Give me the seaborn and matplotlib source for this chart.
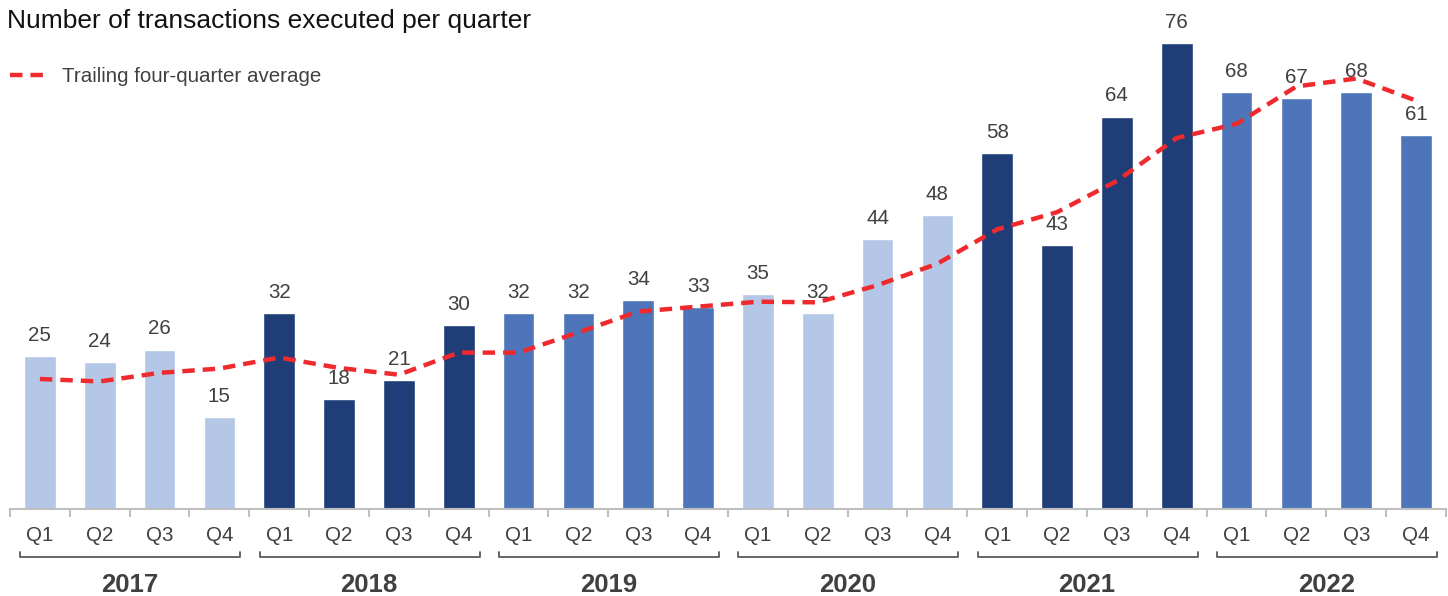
import matplotlib
matplotlib.use('Agg')
import matplotlib.pyplot as plt
import matplotlib.transforms as mtransforms
import seaborn as sns
import pandas as pd

# data -----------------------------------------------------------------
years = ['2017', '2018', '2019', '2020', '2021', '2022']
quarters = ['Q1', 'Q2', 'Q3', 'Q4']
deals = [25, 24, 26, 15,
         32, 18, 21, 30,
         32, 32, 34, 33,
         35, 32, 44, 48,
         58, 43, 64, 76,
         68, 67, 68, 61]
trailing_avg = [21.2, 20.8, 22.2, 22.9,
                24.7, 23.0, 21.9, 25.5,
                25.5, 28.8, 32.2, 33.0,
                33.8, 33.7, 36.5, 40.0,
                45.6, 48.4, 53.5, 60.5,
                62.8, 68.9, 70.2, 66.6]
year_colors = ['#B4C7E7', '#1F3E77', '#4E75BA', '#B4C7E7', '#1F3E77', '#4E75BA']

df = pd.DataFrame({
    'idx': range(len(deals)),
    'quarter': [q for y in years for q in quarters],
    'year': [y for y in years for q in quarters],
    'deals': deals,
    'avg': trailing_avg,
})
bar_colors = [year_colors[years.index(y)] for y in df['year']]

sns.set_style('white')
plt.rcParams['font.family'] = ['Liberation Sans', 'DejaVu Sans']

fig = plt.figure(figsize=(14.48, 5.96), dpi=100)
ax = fig.add_axes([10 / 1448, 87 / 596, 1436 / 1448, 509 / 596])

sns.barplot(data=df, x='idx', y='deals', hue='idx', palette=bar_colors,
            legend=False, width=0.53, saturation=1, ax=ax)
sns.lineplot(data=df, x='idx', y='avg', color='#EE2A2E', lw=3.2, ax=ax,
             label='Trailing four-quarter average')
ax.lines[-1].set_linestyle((0, (2.8, 1.8)))

# value labels
for p in ax.patches:
    h = p.get_height()
    ax.annotate(f'{h:.0f}', (p.get_x() + p.get_width() / 2, h),
                xytext=(0, 8), textcoords='offset points', ha='center', va='bottom',
                fontsize=14.8, color='#404040')

ax.set_xlim(-0.5, len(deals) - 0.5)
ax.set_ylim(0, 83)
ax.set_yticks([])
ax.set_xlabel('')
ax.set_ylabel('')
for s in ['top', 'right', 'left']:
    ax.spines[s].set_visible(False)
ax.spines['bottom'].set_color('#BFBFBF')
ax.spines['bottom'].set_linewidth(1.5)

# quarter labels at centres, tick marks at boundaries
ax.set_xticks(range(len(deals)))
ax.set_xticklabels(df['quarter'], fontsize=14.8, color='#404040')
ax.tick_params(axis='x', which='major', length=0, pad=12)
ax.set_xticks([i - 0.5 for i in range(len(deals) + 1)], minor=True)
ax.tick_params(axis='x', which='minor', length=6, width=1.5, color='#BFBFBF',
               direction='out', bottom=True)

# year brackets
trans = mtransforms.blended_transform_factory(ax.transData, fig.transFigure)
yb = 1 - 557 / 596
for k, y in enumerate(years):
    x0, x1 = 4 * k - 0.33, 4 * k + 3 + 0.35
    ax.plot([x0, x0, x1, x1], [yb + 0.009, yb, yb, yb + 0.009], color='#595959',
            lw=1.3, transform=trans, clip_on=False)
    ax.text(4 * k + 1.5, 1 - 585 / 596, y, transform=trans, ha='center', va='center',
            fontsize=18.5, fontweight='bold', color='#404040')

fig.text(7 / 1448, 1 - 21 / 596, 'Number of transactions executed per quarter',
         fontsize=19, color='#111111', va='center', ha='left')
ax.legend(loc='center left', bbox_to_anchor=(10 / 1448, 1 - 77 / 596),
          bbox_transform=fig.transFigure, frameon=False, fontsize=14.8,
          labelcolor='#404040', handlelength=1.95, handletextpad=0.6,
          borderpad=0, borderaxespad=0)

fig.savefig('out.png', dpi=100)
